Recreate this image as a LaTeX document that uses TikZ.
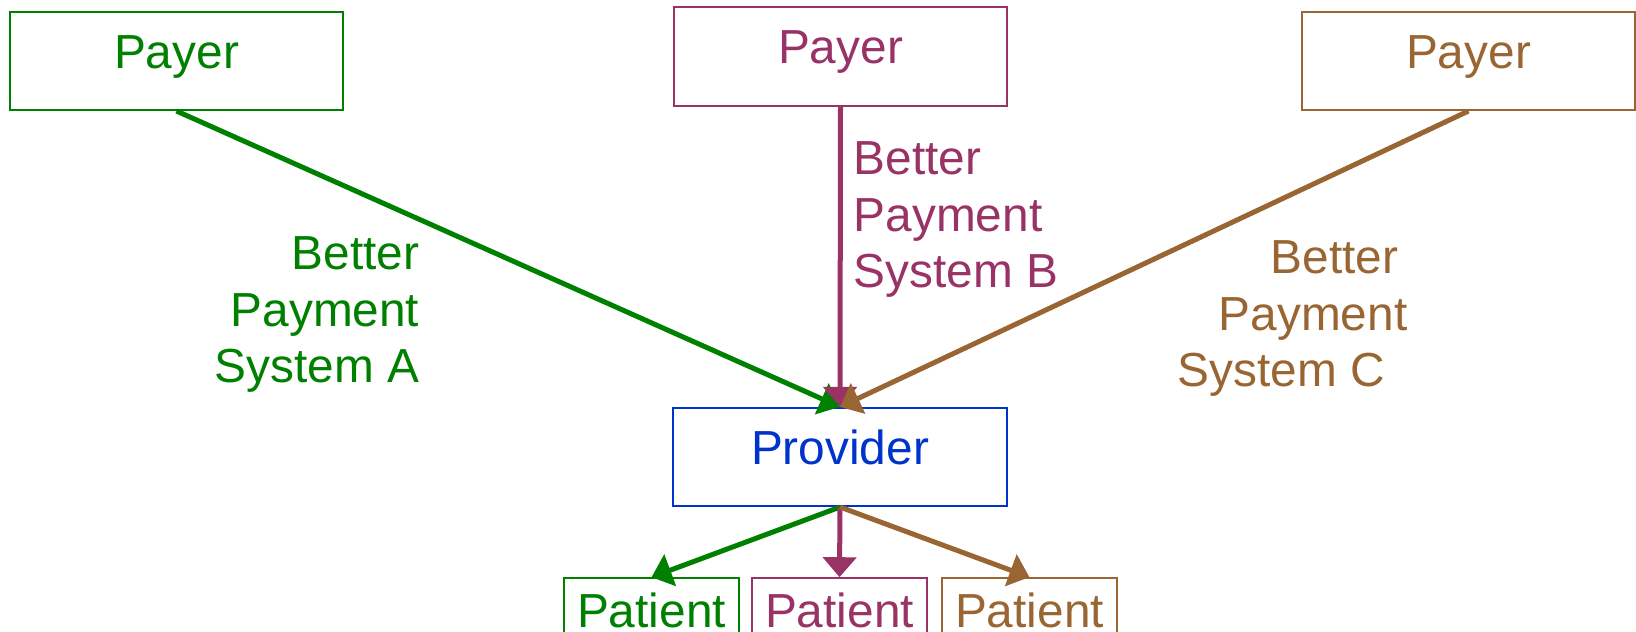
\documentclass[tikz,border=0pt]{standalone}
\usepackage{fontspec}
\setmainfont{Liberation Sans}
\usetikzlibrary{arrows.meta}
\definecolor{PayGreen}{RGB}{0, 128, 0}
\definecolor{PayMagenta}{RGB}{153, 51, 102}
\definecolor{PayBrown}{RGB}{153, 102, 51}
\definecolor{ProviderBlue}{RGB}{0, 51, 204}

\begin{document}
\begin{tikzpicture}[
    every node/.style={font=\fontsize{13.6pt}{16.2pt}\selectfont},
    box/.style={draw, line width=0.45pt, inner sep=0pt, minimum width=3.33cm,
      text height=0.565cm, text depth=0.42cm},
    patientbox/.style={draw, line width=0.45pt, inner sep=0pt, minimum width=1.75cm,
      text height=0.50cm, text depth=0.12cm},
    flow/.style={line width=0.05cm, -{Triangle[length=0.2cm,width=0.33cm]}},
    label/.style={inner sep=0pt}
  ]
    \useasboundingbox (0,0) rectangle (16.36,6.32);

    % Payers
    \node[box, PayGreen] (payerA) at (1.765,5.71) {Payer};
    \node[box, PayMagenta] (payerB) at (8.405,5.755) {Payer};
    \node[box, PayBrown] (payerC) at (14.685,5.71) {Payer};

    % Provider
    \node[box, ProviderBlue, minimum width=3.34cm] (provider) at (8.40,1.75) {Provider};

    % Patients
    \node[patientbox, PayGreen] (patientA) at (6.515,0.23) {Patient};
    \node[patientbox, PayMagenta] (patientB) at (8.395,0.23) {Patient};
    \node[patientbox, PayBrown] (patientC) at (10.295,0.23) {Patient};

    % Payment systems
    \draw[flow, PayGreen] (payerA.south) -- (provider.north);
    \draw[flow, PayMagenta] (payerB.south) -- (provider.north);
    \draw[flow, PayBrown] (payerC.south) -- (provider.north);
    \node[label, PayGreen, align=right, anchor=base east] (sysA) at (4.20,2.49)
      {Better\\Payment\\System A};
    \node[label, PayMagenta, align=left, anchor=base west] (sysB) at (8.53,3.44)
      {Better\\Payment\\System B};
    \node[label, PayBrown, align=left, anchor=base west] (sysC) at (11.77,2.45)
      {\hspace*{0.93cm}Better\\\hspace*{0.41cm}Payment\\System C};

    % Care
    \draw[flow, PayGreen] (provider.south) -- (patientA.north);
    \draw[flow, PayMagenta] (provider.south) -- (patientB.north);
    \draw[flow, PayBrown] (provider.south) -- (patientC.north);
\end{tikzpicture}
\end{document}
